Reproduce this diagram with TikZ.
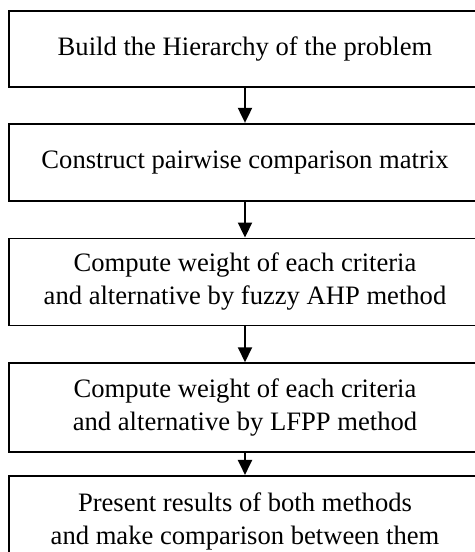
\documentclass[tikz,border=0pt]{standalone}
\usepackage{fontspec}
\setmainfont{Liberation Serif}
\usetikzlibrary{arrows.meta,positioning}

\begin{document}
\begin{tikzpicture}[node distance=18pt, >={Triangle[width=7pt,length=7.5pt]},
  stepbox/.style={draw,line width=0.85pt,minimum width=236pt,align=center,
    inner sep=0pt,font=\fontsize{13.3pt}{16.5pt}\selectfont}]
\useasboundingbox (0,0) rectangle (237.5pt,-276pt);

\node(hierarchy)[stepbox,minimum height=38pt] at (122.5pt,-24.5pt){Build the Hierarchy of the problem};
\node(matrix)[stepbox,minimum height=38.5pt,below=17.5pt of hierarchy]{Construct pairwise comparison matrix};
\node(fuzzyahp)[stepbox,minimum height=43.5pt,below=of matrix]{Compute weight of each criteria\\and alternative by fuzzy AHP method};
\node(lfpp)[stepbox,minimum height=44.5pt,below=of fuzzyahp]{Compute weight of each criteria\\and alternative by LFPP method};
\node(results)[stepbox,minimum height=45.5pt,below=11pt of lfpp]{Present results of both methods\\and make comparison between them};

\draw[->,line width=1pt] (hierarchy) -- (matrix);
\draw[->,line width=1pt] (matrix) -- (fuzzyahp);
\draw[->,line width=1pt] (fuzzyahp) -- (lfpp);
\draw[->,line width=1pt] (lfpp) -- (results);
\end{tikzpicture}
\end{document}
